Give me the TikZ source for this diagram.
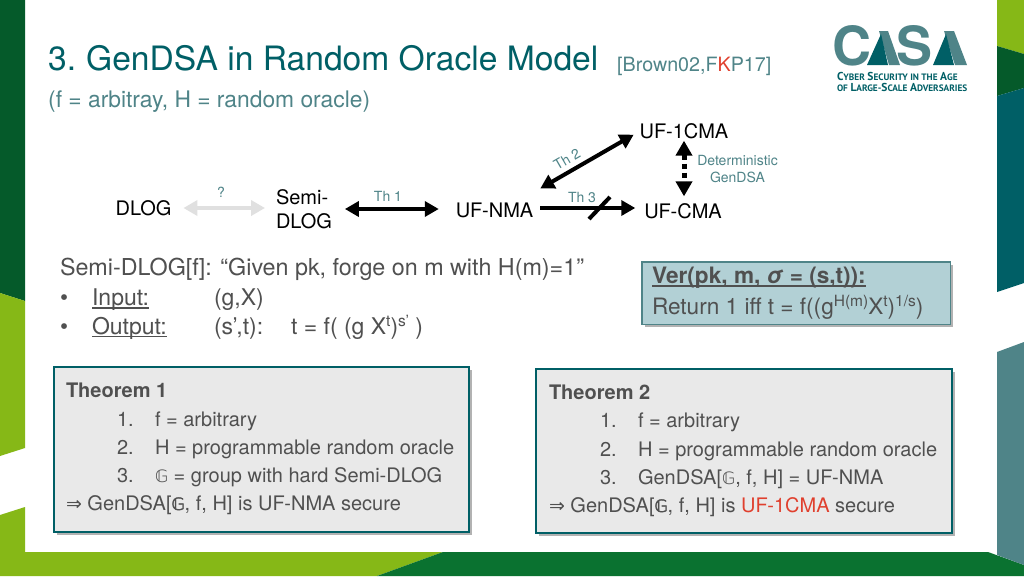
\documentclass[tikz,border=0pt]{standalone}
\usepackage{fontspec}
\setmainfont{TeX Gyre Heros}
\newfontfamily\djv{DejaVu Sans}
\newfontfamily\djvb[FakeBold=2.5]{DejaVu Sans}
\newfontfamily\logofont{PT Sans}
\usetikzlibrary{arrows.meta,shadows}
\definecolor{dkgreen}{HTML}{055A2A}
\definecolor{ltgreen}{HTML}{86B817}
\definecolor{midgreen}{HTML}{0A7230}
\definecolor{teal}{HTML}{005F66}
\definecolor{grayteal}{HTML}{4F8488}
\definecolor{txt}{HTML}{505050}
\definecolor{boxfill}{HTML}{E9E9E9}
\definecolor{verfill}{HTML}{B2D0D5}
\definecolor{redk}{HTML}{E0402E}
\definecolor{ghost}{HTML}{E0E0E0}
\newcommand{\fs}[1]{\fontsize{#1}{#1}\selectfont}
\newcommand{\bbG}{{\djv\fontsize{17}{17}\selectfont 𝔾}}
\newcommand{\bbGb}{{\djvb\fontsize{17}{17}\selectfont 𝔾}}
\newcommand{\impl}{{\djv\fontsize{19}{19}\selectfont ⇒}}
\newcommand{\lc}[2]{{\fontsize{11.5}{11.5}\selectfont #1}{\fontsize{9.3}{9.3}\selectfont #2}}
\newcommand{\ulin}[1]{\leavevmode\setbox0\hbox{#1}\rlap{\raisebox{-3pt}{\rule{\wd0}{1.3pt}}}\box0}
\newcommand{\sups}[1]{\raisebox{8pt}{\fontsize{15.5}{15.5}\selectfont #1}}
\tikzset{
  tx/.style={anchor=base west,inner sep=0pt,outer sep=0pt,text=txt,font=\fs{20}},
  big/.style={anchor=base west,inner sep=0pt,outer sep=0pt,text=txt,font=\fs{23}},
  term/.style={inner sep=0pt,outer sep=0pt,text=black,font=\fs{20}},
  lab/.style={inner sep=0pt,outer sep=0pt,text=grayteal,font=\fs{14}},
  arr/.style={line width=4pt,{Triangle[length=14pt,width=15pt]}-{Triangle[length=14pt,width=15pt]}},
  arrone/.style={line width=4pt,-{Triangle[length=14pt,width=15pt]}},
  thm/.style={draw=teal,line width=2.2pt,fill=boxfill,drop shadow={shadow xshift=3pt,shadow yshift=-3pt,opacity=.3,fill=black}},
  logoname/.style={anchor=base west,inner sep=0pt,outer sep=0pt,text=teal,font=\logofont\bfseries},
  logoletter/.style={anchor=base west,inner sep=0pt,outer sep=0pt,text depth=0pt,text=grayteal,font=\fs{54}\bfseries},
}
\begin{document}
\begin{tikzpicture}[x=1pt,y=-1pt]
\useasboundingbox (0,0) rectangle (1024,576);
% background bands
\fill[white] (0,0) rectangle (1024,576);
\fill[dkgreen] (0,0) -- (25,0) -- (25,301) -- (0,293) -- cycle;
\fill[ltgreen] (0,293) -- (25,301) -- (25,448) -- (0,456) -- cycle;
\fill[ltgreen] (0,515) -- (25,507) -- (25,552) -- (443,552) -- (377,576) -- (0,576) -- cycle;
\fill[midgreen] (443,552) -- (988,552) -- (1024,565) -- (1024,576) -- (377,576) -- cycle;
\fill[ltgreen] (997,0) -- (1024,0) -- (1024,54) -- (997,46) -- cycle;
\fill[dkgreen] (997,46) -- (1024,54) -- (1024,88) -- (997,96) -- cycle;
\fill[teal] (997,96) -- (1024,88) -- (1024,283) -- (997,292) -- cycle;
\fill[grayteal] (997,352) -- (1024,342) -- (1024,565) -- (997,555) -- cycle;
% title
\node[anchor=base west,inner sep=0pt,text=teal,font=\fs{33.6}] (title) at (48,70) {3.\hspace{-2.5pt} GenDSA in Random Oracle Model};
\node[anchor=base west,inner sep=0pt,text=grayteal,font=\fs{19.7}] (cite) at (617,71) {[Brown02,F{\color{redk}K}P17]};
\node[anchor=base west,inner sep=0pt,text=grayteal,font=\fs{22.8}] (sub) at (48,107) {(f = arbitray, H = random oracle)};
% logo
\node[logoletter] (logoc) at (832,65) {C};
\node[logoletter] (logos) at (896,65) {S};
\fill[grayteal] (879,31) -- (888,31) -- (900,65) -- (889,65) -- cycle;
\fill[teal] (867,65) -- (881,34) -- (888,65) -- cycle;
\fill[grayteal] (944,31) -- (954,31) -- (967,65) -- (955,65) -- cycle;
\fill[teal] (933,65) -- (946,34) -- (954,65) -- cycle;
\node[logoname] (logo1) at (837,80) {\lc{C}{YBER} \lc{S}{ECURITY} {\fontsize{9.3}{9.3}\selectfont IN THE} \lc{A}{GE}};
\node[logoname] (logo2) at (837,91) {{\fontsize{9.3}{9.3}\selectfont OF} \lc{L}{ARGE}-\lc{S}{CALE} \lc{A}{DVERSARIES}};
% graph
\node[term,anchor=center] (dlog) at (143.5,208) {DLOG};
\node[term,anchor=west,align=left,font=\fontsize{20}{24}\selectfont] (semi) at (276,209) {Semi-\\DLOG};
\node[term,anchor=center] (nma) at (494.5,210) {UF-NMA};
\node[term,anchor=center] (cma) at (683,211) {UF-CMA};
\node[term,anchor=center] (ocma) at (684,131) {UF-1CMA};
\draw[arr,draw=ghost,shorten <=12pt,shorten >=11pt] (dlog.east) -- (dlog.east -| semi.west);
\draw[arr,shorten <=13pt,shorten >=17pt] (semi.east) -- (semi.east -| nma.west);
\draw[arrone,shorten >=9pt,shorten <=7pt] ([yshift=2pt]nma.east) -- ([yshift=2pt]nma.east -| cma.west);
\draw[arr] ([xshift=7pt,yshift=14pt]nma.north east) -- ([xshift=-6pt,yshift=4pt]ocma.south west);
\draw[line width=5pt,dash pattern=on 5pt off 4pt,{Triangle[length=15pt,width=16pt]}-{Triangle[length=15pt,width=16pt]},shorten <=2pt,shorten >=7pt] (ocma.south) -- (ocma.south |- cma.north);
\coordinate (s1) at (589,219);
\coordinate (s2) at (610,197);
\draw[line width=4pt] (s1) -- (s2);
\node[lab] (q) at (221,192) {?};
\node[lab] (th1) at (388,196) {Th 1};
\node[lab] (th3) at (582,197) {Th 3};
\node[lab,rotate=30] (th2) at (567,159) {Th 2};
\node[lab,align=center,font=\fontsize{14}{17}\selectfont] (det) at (737.5,169.5) {Deterministic\\GenDSA};
% semi-dlog definition
\node[big,font=\fs{23.3}] (d0) at (60,275) {Semi-DLOG[f]: “Given pk, forge on m with H(m)=1”};
\node[big] (b1) at (60,305.5) {•};
\node[big] (i1) at (92,305.5) {\ulin{Input:}};
\node[big] (i2) at (214,305.5) {(g,X)};
\node[big] (b2) at (60,334) {•};
\node[big] (o1) at (92,334) {\ulin{Output:}};
\node[big] (o2) at (214,334) {(s’,t):};
\node[big] (o3) at (291,334) {t = f( (g X\sups{t})\sups{s’} )};
% Ver box
\node[draw=grayteal,line width=1.5pt,fill=verfill,minimum width=308.5pt,minimum height=62.5pt,inner sep=0pt,anchor=north west,drop shadow={shadow xshift=3pt,shadow yshift=-3pt,opacity=.3,fill=black}] (ver) at (641,261) {};
\node[big,font=\fs{22.6}] (v1) at (652,283.5) {\ulin{\textbf{Ver(pk, m, \textit{σ} = (s,t)):}}};
\node[big,font=\fs{22.6}] (v2) at (652,314) {Return 1 iff t = f((g\sups{H(m)}X\sups{t})\sups{1/s})};
% Theorem 1
\node[thm,minimum width=414.5pt,minimum height=164.5pt,inner sep=0pt,anchor=north west] (t1) at (53,366) {};
\node[tx] (t1h) at (66,397) {\textbf{Theorem 1}};
\node[tx] (t1n1) at (117,426) {1.};
\node[tx] (t1a) at (155,426) {f = arbitrary};
\node[tx] (t1n2) at (117,454) {2.};
\node[tx] (t1b) at (155,454) {H = programmable random oracle};
\node[tx] (t1n3) at (117,482) {3.};
\node[tx] (t1c) at (155,482) {\bbG{} = group with hard Semi-DLOG};
\node[tx] (t1r) at (66,510) {\impl{} GenDSA[\bbGb, f, H] is UF-NMA secure};
% Theorem 2
\node[thm,minimum width=415.5pt,minimum height=163.5pt,inner sep=0pt,anchor=north west] (t2) at (535,368) {};
\node[tx] (t2h) at (549,399) {\textbf{Theorem 2}};
\node[tx] (t2n1) at (600,427) {1.};
\node[tx] (t2a) at (638,427) {f = arbitrary};
\node[tx] (t2n2) at (600,456) {2.};
\node[tx] (t2b) at (638,456) {H = programmable random oracle};
\node[tx] (t2n3) at (600,484) {3.};
\node[tx] (t2c) at (638,484) {GenDSA[\bbG, f, H] = UF-NMA};
\node[tx] (t2r) at (549,512) {\impl{} GenDSA[\bbGb, f, H] is {\color{redk}UF-1CMA} secure};
\end{tikzpicture}
\end{document}
